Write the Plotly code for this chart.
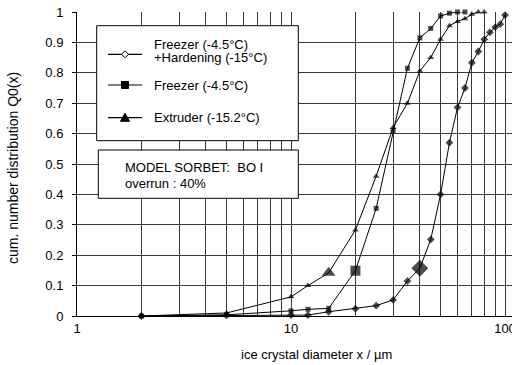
import plotly.graph_objects as go

# ---------------- data ----------------
x_hard = [2, 5, 10, 12, 15, 20, 25, 30, 35, 40, 45, 50, 55, 60, 65, 70, 75, 80, 85, 90, 95, 100]
q_hard = [0.0, 0.002, 0.003, 0.003, 0.014, 0.024, 0.034, 0.053, 0.115, 0.157, 0.252, 0.40,
          0.57, 0.686, 0.75, 0.833, 0.87, 0.91, 0.933, 0.95, 0.96, 0.99]
hl_hard = 40

x_frz = [2, 5, 10, 12, 15, 20, 25, 30, 35, 40, 45, 50, 55, 60, 65]
q_frz = [0.0, 0.004, 0.017, 0.022, 0.025, 0.149, 0.354, 0.61, 0.815, 0.915, 0.946, 0.987,
         0.996, 1.0, 1.0]
hl_frz = 20

x_ext = [2, 5, 10, 12, 15, 20, 25, 30, 35, 40, 45, 50, 55, 60, 65, 70, 75, 80]
q_ext = [0.0, 0.01, 0.063, 0.10, 0.142, 0.283, 0.46, 0.62, 0.70, 0.806, 0.85, 0.91, 0.955,
         0.969, 0.978, 0.993, 1.0, 1.0]
hl_ext = 15

names = ["Freezer (-4.5°C)<br>+Hardening (-15°C)", "Freezer (-4.5°C)", "Extruder (-15.2°C)"]
x_ticks = [1, 10, 100]
x_minor = [2, 3, 4, 5, 6, 7, 8, 9, 20, 30, 40, 50, 60, 70, 80, 90]

FONT = "Liberation Sans, Arial, sans-serif"
W, H = 512, 365
L, R, T, B = 77, 0, 12, 49
PW, PH = W - L - R, H - T - B


def px(x):
    return (x - L) / PW


def py(y):
    return (H - B - y) / PH


fig = go.Figure()


def add_series(xs, ys, symbol, small, big, hl):
    sizes = [big if xv == hl else small for xv in xs]
    fig.add_trace(go.Scatter(
        x=xs, y=ys, mode="lines+markers", showlegend=False, cliponaxis=False,
        line=dict(color="black", width=1),
        marker=dict(symbol=symbol, size=sizes, color="black", line=dict(width=0)),
    ))


add_series(x_hard, q_hard, "diamond", 6, 13, hl_hard)
add_series(x_frz, q_frz, "square", 5, 10, hl_frz)
add_series(x_ext, q_ext, "triangle-up", 6, 12, hl_ext)

shapes = []
shapes.append(dict(type="rect", xref="paper", yref="paper", x0=px(96.7), x1=px(298.3),
                   y0=py(140.7), y1=py(25.7), line=dict(color="black", width=1),
                   fillcolor="white", layer="above"))
shapes.append(dict(type="rect", xref="paper", yref="paper", x0=px(98.3), x1=px(298.3),
                   y0=py(198.3), y1=py(150), line=dict(color="black", width=1),
                   fillcolor="white", layer="above"))

rows_y = [54.3, 85, 117.7]
for yy in rows_y:
    shapes.append(dict(type="line", xref="paper", yref="paper", x0=px(108), x1=px(142),
                       y0=py(yy), y1=py(yy), line=dict(color="black", width=1.2), layer="above"))


def path_shape(pts, fill):
    d = "M " + " L ".join(f"{px(a):.5f},{py(b):.5f}" for a, b in pts) + " Z"
    return dict(type="path", xref="paper", yref="paper", path=d, layer="above",
                fillcolor=fill, line=dict(color="black", width=1))


cx = 125
r = 3.5
shapes.append(path_shape([(cx, rows_y[0] - r), (cx + r, rows_y[0]), (cx, rows_y[0] + r), (cx - r, rows_y[0])], "white"))
r = 3.5
shapes.append(path_shape([(cx - r, rows_y[1] - r), (cx + r, rows_y[1] - r), (cx + r, rows_y[1] + r), (cx - r, rows_y[1] + r)], "black"))
r = 4.5
shapes.append(path_shape([(cx, rows_y[2] - r), (cx + r, rows_y[2] + r * 0.8), (cx - r, rows_y[2] + r * 0.8)], "black"))

annos = []
txt_y = [(names[0].split("<br>")[0], 44), (names[0].split("<br>")[1], 57.5), (names[1], 85), (names[2], 117.5),
         ("MODEL SORBET:\u00a0\u00a0BO I", 167), ("overrun : 40%", 183)]
for i, (t, yy) in enumerate(txt_y):
    xx = 151.7 if i < 4 else 123.3
    annos.append(dict(text=t, xref="paper", yref="paper", x=px(xx), y=py(yy), xanchor="left",
                      yanchor="middle", showarrow=False, font=dict(family=FONT, size=13, color="black")))

annos.append(dict(text="cum. number distribution Q0(x)", xref="paper", yref="paper", x=px(13), y=py(168),
                  textangle=-90, showarrow=False, xanchor="center", yanchor="middle",
                  font=dict(family=FONT, size=14, color="black")))
annos.append(dict(text="ice crystal diameter x / µm", xref="paper", yref="paper", x=px(316), y=py(354),
                  showarrow=False, xanchor="center", yanchor="middle",
                  font=dict(family=FONT, size=13, color="black")))

fig.update_layout(
    width=W, height=H, margin=dict(l=L, r=R, t=T, b=B, pad=0, autoexpand=False),
    paper_bgcolor="white", plot_bgcolor="white",
    shapes=shapes, annotations=annos, showlegend=False,
    font=dict(family=FONT, size=13, color="black"),
)
fig.update_xaxes(
    type="log", range=[0, 2.0327], tickvals=x_ticks, ticktext=[str(v) for v in x_ticks],
    showgrid=True, gridcolor="#3a3a3a", gridwidth=1, showline=True, linecolor="black", linewidth=1,
    ticks="", zeroline=False, ticklabelstandoff=0, ticklabeloverflow="allow", automargin=False,
    minor=dict(tickvals=x_minor, showgrid=True, gridcolor="#3a3a3a", gridwidth=1, ticks=""),
)
fig.update_yaxes(
    range=[0, 1], dtick=0.1, showgrid=True, gridcolor="#3a3a3a", gridwidth=1,
    showline=True, linecolor="black", linewidth=1, ticks="outside", ticklen=4, tickcolor="black",
    zeroline=False, ticklabelstandoff=6, automargin=False,
)

fig.write_html("out.html", config={"displayModeBar": False},
               post_script="document.body.style.margin='0';document.body.style.overflow='hidden';")
